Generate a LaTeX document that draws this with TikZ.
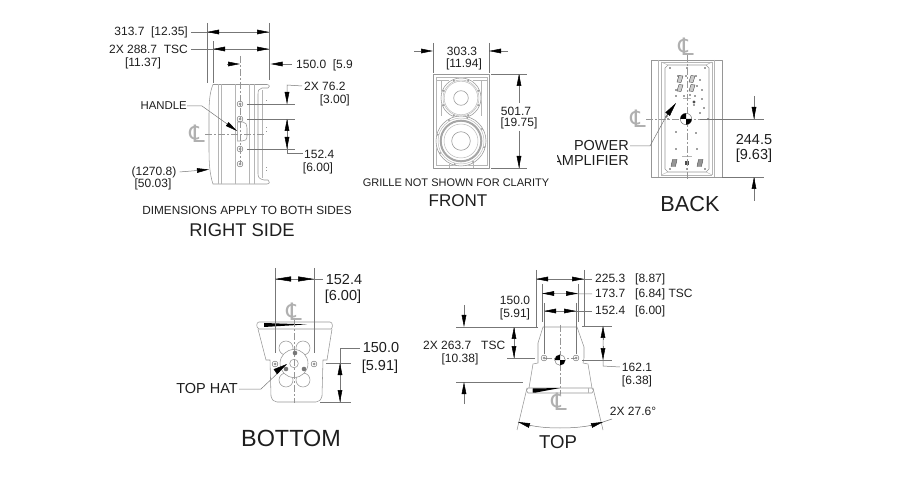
\documentclass[tikz,border=0pt]{standalone}
\usepackage{fontspec}
\setmainfont{Liberation Sans}
\newfontfamily\clfont{DejaVu Sans}
\usetikzlibrary{arrows.meta}
\definecolor{ln}{HTML}{969696}
\definecolor{dm}{HTML}{777777}
\definecolor{tx}{HTML}{1E1E1E}
\tikzset{
  body/.style={draw=ln,line width=.55pt,line join=round},
  thin part/.style={draw=ln!70,line width=.45pt},
  dimln/.style={draw=dm,line width=.5pt},
  cline/.style={draw=ln,line width=.5pt,dash pattern=on 7pt off 2pt on 2pt off 2pt},
  hd/.style={draw=dm,line width=.5pt,-{Triangle[length=12pt,width=4.6pt,color=black,fill=black]}},
  lbl/.style={text=tx,inner sep=0pt,font=\fontsize{12}{14}\selectfont,align=center},
  lblbig/.style={text=tx,inner sep=0pt,font=\fontsize{14.5}{16}\selectfont,align=center},
  note/.style={text=tx,inner sep=0pt,font=\fontsize{11}{13}\selectfont},
  clmark/.style={text=ln!75,inner sep=0pt,font=\clfont\fontsize{24}{24}\selectfont},
  sbolt/.pic={\draw[dm,line width=.5pt] (0,0) circle (2.9pt);\fill[ln] (0,0) circle (1.5pt);},
  pt/.style={fill=black!75},
}
\newcommand{\checker}[3]{%
  \draw[dm,line width=.5pt,fill=white] (#1,#2) circle (#3pt);
  \fill[black] (#1,#2) -- (#1-#3,#2) arc[start angle=180,end angle=90,radius=#3pt] -- cycle;
  \fill[black] (#1,#2) -- (#1+#3,#2) arc[start angle=0,end angle=-90,radius=#3pt] -- cycle;
}
\begin{document}
\begin{tikzpicture}[x=1pt,y=-1pt]
\useasboundingbox (0,0) rectangle (905,494);

% ===== RIGHT SIDE =====
\path[body] (213,84.5) -- (267,84.5) .. controls (270,84.5) and (270,88) .. (268,88) -- (262,88)
  .. controls (259,89) and (258,90) .. (258,94) -- (258,174) .. controls (258,178) and (260,179) .. (264,180)
  -- (268,180) .. controls (270,181) and (270,184) .. (267,184) -- (213,184)
  .. controls (210,175) and (209,165) .. (209,150) -- (209,115) .. controls (209,100) and (210,92) .. (213,84.5) -- cycle;
\foreach \x in {218,221,235,249,254}{\draw[thin part] (\x,84.5) -- (\x,184);}
\draw[thin part] (262,90) -- (262,178);
\draw[body] (237,122) -- (243,122) .. controls (246,122) and (247,125) .. (247,128) -- (247,136) .. controls (247,140) and (245,141) .. (242,141) -- (237,141);
\draw[thin part] (237,122) -- (237,141);
\foreach \y in {104,119,149,164}{\pic at (240,\y) {sbolt};}
\foreach \y in {100,127,131,167,170}{\fill[ln] (266,\y) rectangle +(1,1);}
\draw[cline] (205,134) -- (265,134);
\draw[cline] (240,56) -- (240,165);
\draw[dimln] (207,23) -- (207,83);
\draw[dimln] (269,23) -- (269,80);
\draw[dimln] (213,41) -- (213,83);
\node[lbl,anchor=east] (rs1) at (188,32) {313.7\ \ [12.35]};
\draw[dimln] (rs1.east)+(3,0) -- (269,32);
\draw[hd] (220,32) -- (207,32);
\draw[hd] (256,32) -- (269,32);
\node[lbl,anchor=east] (rs2) at (188,49) {2X 288.7\ \ TSC};
\node[lbl] (rs2b) at (143,63) {[11.37]};
\draw[dimln] (rs2.east)+(3,0) -- (269,49);
\draw[hd] (226,49) -- (213,49);
\draw[hd] (256,49) -- (269,49);
\draw[hd] (227,64) -- (240,64);
\node[lbl,anchor=west] (rs3) at (296,65) {150.0\ \ [5.9};
\draw[hd] (292,64) -- (270.5,64);
\node[lbl,anchor=west] (rs4) at (304,86) {2X 76.2};
\node[lbl,anchor=east] (rs4b) at (350,100) {[3.00]};
\draw[dimln] (rs4.west)+(-2,0) -- (287,85) -- (287,104);
\draw[hd] (287,92) -- (287,104);
\draw[dimln] (247,104) -- (295,104);
\draw[dimln] (247,119) -- (295,119);
\draw[dimln] (247,149) -- (295,149);
\draw[dimln] (287,119) -- (287,153) -- (303,153);
\draw[hd] (287,131) -- (287,119);
\draw[hd] (287,137) -- (287,149);
\node[lbl,anchor=west] (rs5) at (304,154) {152.4};
\node[lbl] (rs5b) at (318,168) {[6.00]};
\node[lbl,font=\fontsize{11.4}{13}\selectfont,anchor=east] (rshandle) at (187,106) {HANDLE};
\draw[hd] (rshandle.east) -- (202,106) -- (237,131);
\node[clmark] (rscl) at (197,134) {℄};
\node[lbl] (rs6) at (154,172) {(1270.8)};
\node[lbl] (rs6b) at (153,184) {[50.03]};
\draw[hd] (rs6.east)+(3,0) -- (209,169.5);
\node[note,font=\fontsize{11.8}{13}\selectfont] (rsnote) at (247,210) {DIMENSIONS APPLY TO BOTH SIDES};
\node[text=tx,inner sep=0pt,font=\fontsize{18.4}{20}\selectfont] (rstitle) at (242,230) {RIGHT SIDE};

% ===== FRONT =====
\draw[body] (433,74) rectangle (489,168);
\draw[thin part] (436,77) rectangle (487,165);
\draw[thin part] (436,80) -- (449,80) (473,80) -- (487,80);
\draw[thin part] (441,80) -- (441,116) (481,80) -- (481,116);
\draw[thin part] (449,165) -- (449,168) (473,165) -- (473,168);
\draw[thin part] (449,165) -- (449,163) -- (473,163) -- (473,165);
\fill[white] (461,98) circle (20.5pt);
\draw[body] (461,98) circle (20pt);
\draw[thin part] (461,98) circle (18pt);
\draw[thin part] (461,98) circle (16.8pt);
\draw[body] (461,98) circle (7.3pt);
\foreach \a in {22.5,67.5,...,337.5}{\fill[ln] (461,98) ++(\a:18.7pt) circle (1pt);}
\fill[white] (461,141) circle (25.5pt);
\draw[body] (461,141) circle (25pt);
\draw[thin part] (461,141) circle (23pt);
\draw[draw=ln!85,line width=2pt] (461,141) circle (20.3pt);
\draw[thin part] (461,141) circle (17pt);
\draw[body] (461,141) circle (9.3pt);
\foreach \a in {30,75,...,345}{\fill[ln] (461,141) ++(\a:24pt) circle (1pt);}
\draw[dimln] (433,43) -- (433,73);
\draw[dimln] (489,43) -- (489,73);
\draw[hd] (414,51) -- (433,51);
\draw[hd] (508,51) -- (489,51);
\node[lbl] (fr1) at (462,51) {303.3};
\node[lbl] (fr1b) at (464,64) {[11.94]};
\draw[dimln] (491,74) -- (527,74);
\draw[dimln] (491,168) -- (527,168);
\draw[dimln] (519,103) -- (519,74);
\draw[dimln] (519,131) -- (519,168);
\draw[hd] (519,88) -- (519,74);
\draw[hd] (519,154) -- (519,168);
\node[lbl] (fr2) at (516,111) {501.7};
\node[lbl] (fr2b) at (519,123) {[19.75]};
\node[note] (frnote) at (456,183) {GRILLE NOT SHOWN FOR CLARITY};
\node[text=tx,inner sep=0pt,font=\fontsize{17}{19}\selectfont] (frtitle) at (458,201) {FRONT};

% ===== BACK =====
\draw[body] (651,60) rectangle (722,177);
\draw[thin part] (658,60) -- (658,177) (661,62) -- (661,175) (712,62) -- (712,175) (714,60) -- (714,177);
\draw[thin part] (661,62) -- (712,62) (661,175) -- (712,175);
\draw[body] (668,65) -- (706,65) -- (709,68) -- (709,169) -- (706,172) -- (668,172) -- (665,169) -- (665,68) -- cycle;
\draw[thin part] (661,62) -- (668,65) (712,62) -- (706,65) (661,175) -- (668,172) (712,175) -- (706,172);
\foreach \x/\y in {670/68,705/68,687/68,670/169,705/169,687/169,678/76,686/76,696/76,700/80,676/90,697/86,676/96,684/96,690/95,695/96,702/90,702/99,704/108,700/113,694/105,667/116,666/117,676/132,696/133,676/149,697/149,668/119,708/119}{\fill[pt] (\x,\y) circle (.8pt);}
\foreach \x/\y in {680/79,692/79,680/88,692/88}{\draw[draw=black!70,fill=ln!50,line width=.4pt] (\x-3,\y+3) -- (\x+1,\y+3.5) -- (\x+3,\y-3) -- (\x-1,\y-3.5) -- cycle;}
\foreach \x/\y in {674/163,700/163}{\draw[draw=black!70,fill=ln,line width=.4pt] (\x-3,\y+3.5) -- (\x+1.5,\y+3.5) -- (\x+3,\y-3.5) -- (\x-1.5,\y-3.5) -- cycle;}
\fill[black!70] (685,161) rectangle (689,165);
\fill[black!70] (694,102) circle (1.6pt);
\draw[thin part] (683,98) -- (691,98) (682,156) -- (692,156);
\draw[cline] (687,55) -- (687,180);
\draw[cline] (646,119) -- (700,119);
\draw[dimln] (700,119) -- (764,119);
\draw[dimln] (722,177) -- (764,177);
\checker{686}{119}{5.7}
\draw[dimln] (754,96) -- (754,119);
\draw[hd] (754,105) -- (754,119);
\draw[dimln] (754,201) -- (754,177);
\draw[hd] (754,191) -- (754,177);
\node[lblbig] (bk1) at (754,140) {244.5};
\node[lblbig] (bk1b) at (754,156) {[9.63]};
\node[clmark] (bkcl1) at (686,47) {℄};
\node[clmark] (bkcl2) at (638,119) {℄};
\begin{scope}
\clip (557,130) rectangle (640,175);
\node[lblbig,anchor=east] (bkp1) at (629,146) {POWER};
\node[lblbig,anchor=east] (bkp2) at (629,161) {AMPLIFIER};
\end{scope}
\draw[dimln] (bkp1.east)+(1,0) -- (650,146) -- (668,113);
\draw[draw=black,-{Triangle[length=14pt,width=5.5pt,color=black,fill=black]}] (667,115) -- (676,103);
\node[text=tx,inner sep=0pt,font=\fontsize{21.7}{24}\selectfont] (bktitle) at (690,204) {BACK};

% ===== BOTTOM =====
\draw[body] (259,322) -- (330,322) .. controls (333,322) and (333,328) .. (331,329) -- (259,329) .. controls (256,328) and (256,322) .. (259,322) -- cycle;
\draw[body] (258,329) -- (266,360) -- (270,360) -- (271,396) .. controls (272,400) and (274,402) .. (277,402) -- (316,402) .. controls (319,402) and (321,400) .. (322,396) -- (323,360) -- (327,360) -- (332,329);
\fill[black] (264,323) -- (307,324.4) -- (264,327) -- cycle;
\foreach \x/\y in {286/348,303/348,286/380,303/380}{\draw[body] (\x,\y) circle (7pt);}
\fill[white] (294,363.5) circle (14pt);
\draw[body] (294,363.5) circle (14pt);
\draw[body] (294,363.5) circle (4.3pt);
\draw[cline] (294,320) -- (294,403);
\foreach \x/\y in {295/353,286/369,304/369}{\fill[dm] (\x,\y) circle (2.3pt);}
\pic at (275,364) {sbolt};
\pic at (314,364) {sbolt};
\draw[dimln] (275,268) -- (275,353);
\draw[dimln] (314,268) -- (314,353);
\draw[dimln] (275,279) -- (323,279);
\draw[hd,-{Triangle[length=16pt,width=5pt,color=black,fill=black]}] (292,279) -- (275,279);
\draw[hd,-{Triangle[length=16pt,width=5pt,color=black,fill=black]}] (298,279) -- (314,279);
\node[lblbig] (bt1) at (344,280) {152.4};
\node[lblbig] (bt1b) at (343,297) {[6.00]};
\node[clmark] (btcl) at (294,312) {℄};
\draw[dimln] (326,363) -- (351,363);
\draw[dimln] (320,402) -- (351,402);
\node[lblbig] (bt2) at (381,348) {150.0};
\node[lblbig] (bt2b) at (380,367) {[5.91]};
\draw[dimln] (bt2.west)+(-3,0) -- (340,348) -- (340,402);
\draw[hd] (340,378) -- (340,363);
\draw[hd] (340,387) -- (340,402);
\node[lblbig,anchor=east] (bthat) at (238,389) {TOP HAT};
\draw[dimln] (bthat.east)+(1,0) -- (261,389) -- (280,371);
\draw[draw=black,-{Triangle[length=14pt,width=6pt,color=black,fill=black]}] (275,372) -- (287,364);
\node[text=tx,inner sep=0pt,font=\fontsize{23.4}{25}\selectfont] (bttitle) at (291,438) {BOTTOM};

% ===== TOP =====
\draw[body] (528,388) .. controls (526,389) and (526,392) .. (528,393) -- (592,393) .. controls (594,392) and (594,389) .. (592,388) -- cycle;
\draw[thin part] (532,388) -- (532,393) (588,388) -- (588,393);
\fill[black] (533,388.5) -- (560,388) -- (536,392.5) -- (533,392.5) -- cycle;
\draw[body] (529,388) -- (533,364) -- (538,363) -- (538,343) -- (543,327) -- (577,327) -- (584,347) -- (584,358) -- (583,363) -- (588,364) -- (592,388);
\draw[body] (527,388) -- (517,430);
\draw[body] (593,388) -- (603,430);
\draw[cline] (560,325) -- (560,395);
\draw[cline] (545,358) -- (575,358);
\checker{560}{360}{5.3}
\pic at (544,358) {sbolt};
\pic at (576,358) {sbolt};
\node[clmark] (tpcl) at (559,402) {℄};
\draw[dimln] (536,270) -- (536,327);
\draw[dimln] (584,270) -- (584,327);
\draw[dimln] (542,284) -- (542,322);
\draw[dimln] (578,284) -- (578,322);
\draw[dimln] (544,303) -- (544,354);
\draw[dimln] (576,303) -- (576,354);
\node[lbl,anchor=west] (tp1) at (595,279) {225.3\ \ \ [8.87]};
\node[lbl,anchor=west] (tp2) at (595,294) {173.7\ \ \ [6.84] TSC};
\node[lbl,anchor=west] (tp3) at (595,311) {152.4\ \ \ [6.00]};
\draw[dimln] (536,279) -- ([xshift=-3pt]tp1.west);
\draw[dimln] (542,293.5) -- ([xshift=-3pt]tp2.west);
\draw[dimln] (544,311) -- ([xshift=-3pt]tp3.west);
\draw[hd] (550,279) -- (536,279);
\draw[hd] (570,279) -- (584,279);
\draw[hd] (554,293.5) -- (542,293.5);
\draw[hd] (566,293.5) -- (578,293.5);
\draw[hd] (557,311) -- (544,311);
\draw[hd] (563,311) -- (576,311);
\node[lbl] (tp4) at (515,300) {150.0};
\node[lbl] (tp4b) at (515,314) {[5.91]};
\node[lbl,anchor=west] (tp5) at (423,345) {2X 263.7\ \ \ TSC};
\node[lbl] (tp5b) at (460,359) {[10.38]};
\node[lbl] (tp6) at (637,367) {162.1};
\node[lbl] (tp6b) at (637,381) {[6.38]};
\draw[dimln] (456,327) -- (538,327);
\draw[dimln] (456,382) -- (523,382);
\draw[dimln] (507,358) -- (535,358);
\draw[dimln] (582,326) -- (612,326);
\draw[dimln] (582,360) -- (612,360);
\draw[hd] (464,305) -- (464,327);
\draw[hd] (464,404) -- (464,382);
\draw[dimln] (514,327) -- (514,358);
\draw[hd] (514,342) -- (514,327);
\draw[hd] (514,345) -- (514,358);
\draw[dimln] (603,326) -- (603,366) -- ([xshift=-2pt]tp6.west);
\draw[hd] (603,340) -- (603,326);
\draw[hd] (603,346) -- (603,360);
\draw[dimln] (518,422) .. controls (532,427) and (547,428) .. (560,428) .. controls (573,428) and (590,427) .. (603,422) -- (612,419);
\draw[hd] (531,426) -- (518,422);
\draw[hd] (590,426) -- (603,422);
\node[lbl] (tp7) at (633,411) {2X 27.6°};
\node[text=tx,inner sep=0pt,font=\fontsize{18.6}{20}\selectfont] (tptitle) at (558,442) {TOP};
\end{tikzpicture}
\end{document}
